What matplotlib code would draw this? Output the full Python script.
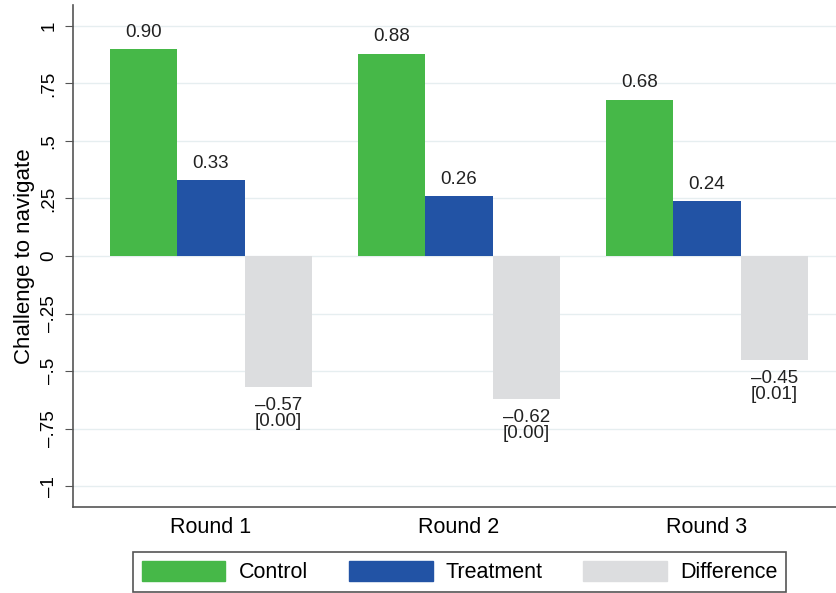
import matplotlib.pyplot as plt
import numpy as np
from matplotlib.patches import Patch

plt.rcParams["font.family"] = ["Liberation Sans", "DejaVu Sans"]

rounds = ["Round 1", "Round 2", "Round 3"]
control = [0.90, 0.88, 0.68]
treatment = [0.33, 0.26, 0.24]
difference = [-0.57, -0.62, -0.45]
pvals = ["[0.00]", "[0.00]", "[0.01]"]
yticks = [1, 0.75, 0.5, 0.25, 0, -0.25, -0.5, -0.75, -1]
ytick_labels = ["1", ".75", ".5", ".25", "0", "\u2013.25", "\u2013.5", "\u2013.75", "\u20131"]

green = "#46b848"
blue = "#2253a5"
grey = "#dcdddf"

fig = plt.figure(figsize=(8.36, 5.93), dpi=100)
ax = fig.add_axes([0.0873, 0.145, 0.9127, 0.8466])

x = np.arange(len(rounds))
w = 0.272
ax.bar(x - w, control, w, color=green, zorder=3)
ax.bar(x, treatment, w, color=blue, zorder=3)
ax.bar(x + w, difference, w, color=grey, zorder=3)

# value labels
for i in range(len(rounds)):
    ax.text(x[i] - w, control[i] + 0.035, f"{control[i]:.2f}", ha="center", va="bottom", fontsize=13.5, color="#222222")
    ax.text(x[i], treatment[i] + 0.035, f"{treatment[i]:.2f}", ha="center", va="bottom", fontsize=13.5, color="#222222")
    ax.text(x[i] + w, difference[i] - 0.045, f"\u2013{abs(difference[i]):.2f}\n{pvals[i]}",
            ha="center", va="top", fontsize=13.5, color="#222222", linespacing=0.9)

ax.set_ylim(-1.091, 1.091)
ax.set_xlim(-0.556, 2.52)
ax.set_yticks(yticks)
ax.set_yticklabels(ytick_labels, rotation=90, va="center", fontsize=13.5)
ax.set_xticks(x)
ax.set_xticklabels(rounds, fontsize=15.5)
ax.tick_params(axis="x", length=0, pad=7)
ax.tick_params(axis="y", length=6, color="#555555", pad=5)
ax.set_ylabel("Challenge to navigate", fontsize=16)
ax.yaxis.set_label_coords(-0.05, 0.5)

ax.grid(axis="y", color="#e6eef0", linewidth=1, zorder=0)
ax.spines["top"].set_visible(False)
ax.spines["right"].set_visible(False)
for s in ["left", "bottom"]:
    ax.spines[s].set_color("#555555")
    ax.spines[s].set_linewidth(1.2)

handles = [Patch(color=green), Patch(color=blue), Patch(color=grey)]
leg = fig.legend(handles, ["Control", "Treatment", "Difference"], ncol=3,
                 loc="center", bbox_to_anchor=(0.5497, 0.0354), fontsize=15.5,
                 handlelength=3.9, handleheight=1.07, handletextpad=0.6,
                 columnspacing=1.9, fancybox=False, borderpad=0.4,
                 edgecolor="#555555", framealpha=1)
leg.get_frame().set_linewidth(1.2)

fig.savefig("out.png", dpi=100)
